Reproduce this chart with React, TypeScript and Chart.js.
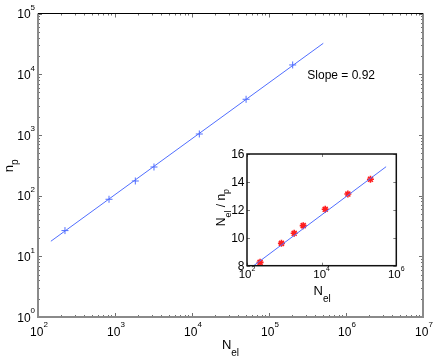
import React, { useEffect, useRef } from "react";
import { Chart, registerables } from "chart.js";
Chart.register(...registerables);

// ---- data ----
const N_EL = [224, 836, 1836, 3208, 12450, 50400, 203000];
const N_P = [26.5, 87, 174, 296, 1035, 3862, 14200];
const RATIO = [8.24, 9.6, 10.32, 10.87, 12.04, 13.13, 14.19];
const FIT_MAIN_X = [147, 507000];
const FIT_MAIN_Y = [17.7, 32300];
const FIT_INSET_X = [151, 533000];
const FIT_INSET_Y = [8.0, 15.09];
const MAIN_X_EXP = [2, 3, 4, 5, 6, 7];
const MAIN_Y_EXP = [0, 1, 2, 3, 4, 5];
const INSET_X_EXP = [2, 4, 6];
const INSET_Y_TICKS = [8, 10, 12, 14, 16];
const SLOPE_TEXT = "Slope = 0.92";

const FONT = '"Liberation Sans", Arial, Helvetica, sans-serif';
const BLUE = "rgb(80,110,255)";
const RED = "rgb(255,30,30)";

type Part = { t: string; size: number; dy: number };

function drawParts(ctx: CanvasRenderingContext2D, parts: Part[], x: number, y: number, align: string) {
  let total = 0;
  const widths = parts.map((p) => {
    ctx.font = `${p.size}px ${FONT}`;
    const w = ctx.measureText(p.t).width;
    total += w;
    return w;
  });
  let cx = align === "center" ? x - total / 2 : align === "right" ? x - total : x;
  ctx.textAlign = "left";
  ctx.textBaseline = "alphabetic";
  parts.forEach((p, i) => {
    ctx.font = `${p.size}px ${FONT}`;
    ctx.fillText(p.t, cx, y + p.dy);
    cx += widths[i];
  });
}

function pow10(exp: number, size: number, sup: number, dy: number): Part[] {
  return [
    { t: "10", size, dy: 0 },
    { t: String(exp), size: sup, dy },
  ];
}

function tick(ctx: CanvasRenderingContext2D, x1: number, y1: number, x2: number, y2: number) {
  ctx.beginPath();
  ctx.moveTo(x1, y1);
  ctx.lineTo(x2, y2);
  ctx.stroke();
}

const mainDecor = {
  id: "mainDecor",
  afterDraw(chart: any) {
    const { ctx, chartArea: a, scales } = chart;
    const xs = scales.x;
    const ys = scales.y;
    ctx.save();
    ctx.strokeStyle = "#707070";
    ctx.lineWidth = 1;
    const xl = MAIN_X_EXP[MAIN_X_EXP.length - 1];
    for (const e of MAIN_X_EXP) {
      for (let m = 1; m <= 9; m++) {
        if (e === xl && m > 1) break;
        const px = Math.round(xs.getPixelForValue(m * Math.pow(10, e))) + 0.5;
        const len = m === 1 ? 4 : 2;
        tick(ctx, px, a.bottom, px, a.bottom - len);
        tick(ctx, px, a.top, px, a.top + len);
      }
    }
    const yl = MAIN_Y_EXP[MAIN_Y_EXP.length - 1];
    for (const e of MAIN_Y_EXP) {
      for (let m = 1; m <= 9; m++) {
        if (e === yl && m > 1) break;
        const py = Math.round(ys.getPixelForValue(m * Math.pow(10, e))) + 0.5;
        const len = m === 1 ? 4 : 2;
        tick(ctx, a.left, py, a.left + len, py);
        tick(ctx, a.right, py, a.right - len, py);
      }
    }
    ctx.strokeStyle = "#8a8a8a";
    ctx.lineWidth = 2;
    tick(ctx, a.left, a.top, a.left, a.bottom + 1);
    tick(ctx, a.left - 1, a.bottom, a.right + 1, a.bottom);
    tick(ctx, a.right, a.top, a.right, a.bottom + 1);
    ctx.strokeStyle = "#000";
    ctx.lineWidth = 1;
    tick(ctx, a.left, a.top, a.right, a.top);

    ctx.fillStyle = "#000";
    for (const e of MAIN_X_EXP) {
      const px = xs.getPixelForValue(Math.pow(10, e));
      drawParts(ctx, pow10(e, 12, 8, -9.3), px + 1, a.bottom + 19, "center");
    }
    for (const e of MAIN_Y_EXP) {
      const py = ys.getPixelForValue(Math.pow(10, e));
      drawParts(ctx, pow10(e, 12, 8, -8.5), a.left - 3, py + 4.8, "right");
    }
    drawParts(
      ctx,
      [
        { t: "N", size: 13, dy: 0 },
        { t: "el", size: 10, dy: 7 },
      ],
      (a.left + a.right) / 2,
      a.bottom + 32.3,
      "center"
    );
    ctx.save();
    ctx.translate(13.3, (a.top + a.bottom) / 2 + 0.5);
    ctx.rotate(-Math.PI / 2);
    drawParts(
      ctx,
      [
        { t: "n", size: 13, dy: 0 },
        { t: "p", size: 10, dy: 4.5 },
      ],
      0,
      0,
      "center"
    );
    ctx.restore();
    ctx.font = `12px ${FONT}`;
    ctx.textAlign = "left";
    ctx.fillText(SLOPE_TEXT, 307.3, 79);
    ctx.restore();
  },
};

const insetDecor = {
  id: "insetDecor",
  afterDraw(chart: any) {
    const { ctx, chartArea: a, scales } = chart;
    const xs = scales.x;
    const ys = scales.y;
    ctx.save();
    ctx.strokeStyle = "#808080";
    ctx.lineWidth = 1;
    for (const e of INSET_X_EXP) {
      const px = Math.round(xs.getPixelForValue(Math.pow(10, e))) + 0.5;
      tick(ctx, px, a.bottom, px, a.bottom - 3);
      tick(ctx, px, a.top, px, a.top + 3);
    }
    for (const v of INSET_Y_TICKS) {
      const py = Math.round(ys.getPixelForValue(v)) + 0.5;
      tick(ctx, a.left, py, a.left + 3, py);
      tick(ctx, a.right, py, a.right - 3, py);
    }
    ctx.strokeStyle = "#111";
    ctx.lineWidth = 1.5;
    ctx.strokeRect(a.left, a.top, a.right - a.left, a.bottom - a.top);

    ctx.fillStyle = "#000";
    for (const e of INSET_X_EXP) {
      const px = xs.getPixelForValue(Math.pow(10, e));
      drawParts(ctx, pow10(e, 11.5, 7, -7.6), px, a.bottom + 12.6, "center");
    }
    for (const v of INSET_Y_TICKS) {
      const py = ys.getPixelForValue(v);
      drawParts(ctx, [{ t: String(v), size: 12, dy: 0 }], a.left - 2.5, py + 4.3, "right");
    }
    drawParts(
      ctx,
      [
        { t: "N", size: 13, dy: 0 },
        { t: "el", size: 10, dy: 7 },
      ],
      (a.left + a.right) / 2 + 0.5,
      a.bottom + 29.3,
      "center"
    );
    ctx.save();
    ctx.translate(a.left - 21.7, (a.top + a.bottom) / 2 - 2.3);
    ctx.rotate(-Math.PI / 2);
    drawParts(
      ctx,
      [
        { t: "N", size: 12, dy: 0 },
        { t: "el", size: 9, dy: 5.5 },
        { t: " / ", size: 12, dy: 0 },
        { t: "n", size: 12, dy: 0 },
        { t: "p", size: 9, dy: 4 },
      ],
      0,
      0,
      "center"
    );
    ctx.restore();
    ctx.restore();
  },
};

export default function App() {
  const mainRef = useRef<HTMLCanvasElement>(null);
  const insetRef = useRef<HTMLCanvasElement>(null);

  useEffect(() => {
    document.body.style.margin = "0";
    const main = new Chart(mainRef.current as HTMLCanvasElement, {
      type: "scatter",
      data: {
        datasets: [
          {
            data: FIT_MAIN_X.map((x, i) => ({ x, y: FIT_MAIN_Y[i] })),
            showLine: true,
            borderColor: BLUE,
            borderWidth: 1,
            pointRadius: 0,
          },
          {
            data: N_EL.map((x, i) => ({ x, y: N_P[i] })),
            showLine: false,
            pointStyle: "cross",
            pointRadius: 3.5,
            borderColor: BLUE,
            borderWidth: 1,
          },
        ],
      },
      options: {
        animation: false,
        responsive: false,
        devicePixelRatio: 1,
        layout: { padding: { left: 38, right: 13, top: 13.5, bottom: 42 }, autoPadding: false },
        plugins: { legend: { display: false }, tooltip: { enabled: false } },
        events: [],
        scales: {
          x: { type: "logarithmic", min: 100, max: 1e7, display: false },
          y: { type: "logarithmic", min: 1, max: 1e5, display: false },
        },
      },
      plugins: [mainDecor],
    } as any);

    const inset = new Chart(insetRef.current as HTMLCanvasElement, {
      type: "scatter",
      data: {
        datasets: [
          {
            data: FIT_INSET_X.map((x, i) => ({ x, y: FIT_INSET_Y[i] })),
            showLine: true,
            borderColor: BLUE,
            borderWidth: 1,
            pointRadius: 0,
          },
          {
            data: N_EL.map((x, i) => ({ x, y: RATIO[i] })),
            showLine: false,
            pointStyle: "star",
            pointRadius: 3.5,
            borderColor: RED,
            borderWidth: 1.6,
          },
        ],
      },
      options: {
        animation: false,
        responsive: false,
        devicePixelRatio: 1,
        layout: { padding: { left: 47, right: 15.7, top: 14, bottom: 39.3 }, autoPadding: false },
        plugins: { legend: { display: false }, tooltip: { enabled: false } },
        events: [],
        scales: {
          x: { type: "logarithmic", min: 100, max: 1e6, display: false },
          y: { type: "linear", min: 8, max: 16, display: false },
        },
      },
      plugins: [insetDecor],
    } as any);

    return () => {
      main.destroy();
      inset.destroy();
    };
  }, []);

  return (
    <div style={{ position: "fixed", left: 0, top: 0, width: 436, height: 359, background: "#fff" }}>
      <canvas ref={mainRef} width={436} height={359} style={{ position: "absolute", left: 0, top: 0, width: 436, height: 359 }} />
      <canvas ref={insetRef} width={212} height={165} style={{ position: "absolute", left: 200, top: 140, width: 212, height: 165 }} />
    </div>
  );
}
